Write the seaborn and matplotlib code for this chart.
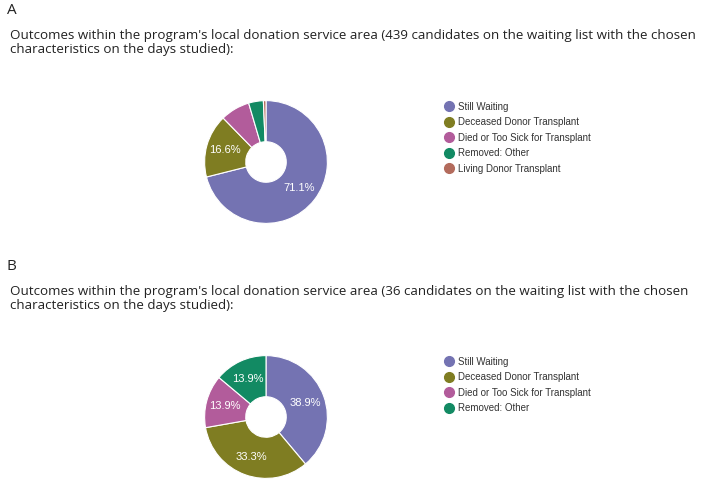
import seaborn as sns
import matplotlib.pyplot as plt
from matplotlib.lines import Line2D

# Panel A: 439 candidates
labels_a = ["Still Waiting", "Deceased Donor Transplant", "Died or Too Sick for Transplant",
            "Removed: Other", "Living Donor Transplant"]
counts_a = [312, 73, 34, 17, 3]
colors_a = ["#7473b2", "#7f7d22", "#b25c9b", "#128a63", "#b36b5c"]

# Panel B: 36 candidates
labels_b = ["Still Waiting", "Deceased Donor Transplant", "Died or Too Sick for Transplant",
            "Removed: Other"]
counts_b = [14, 12, 5, 5]
colors_b = colors_a[:4]

titles = [
    ("A", "Outcomes within the program's local donation service area (439 candidates on the waiting list with the chosen\ncharacteristics on the days studied):"),
    ("B", "Outcomes within the program's local donation service area (36 candidates on the waiting list with the chosen\ncharacteristics on the days studied):"),
]

sns.set_theme(style="white")
plt.rcParams['font.family'] = ['Liberation Sans', 'DejaVu Sans']

W, H = 704, 493
fig = plt.figure(figsize=(W / 100, H / 100), dpi=100)


def px(x, y):
    return x / W, 1 - y / H


def draw_panel(idx, counts, labels, colors, cy, title_y, legend_y):
    letter, title = titles[idx]
    fig.text(*px(7, title_y), letter, fontsize=11, family='Open Sans', color='#222222', va='center')
    fig.text(*px(10, title_y + 32), title, fontsize=9.6, family='Open Sans', color='#222222',
             va='center', linespacing=1.1)

    r = 62
    l, b = px(266 - r, cy + r)
    ax = fig.add_axes([l, b, 2 * r / W, 2 * r / H])
    ax.pie(counts, colors=colors, startangle=90, counterclock=False,
           autopct=lambda p: f"{p:.1f}%" if p > 10 else "", pctdistance=0.69,
           wedgeprops=dict(width=0.67, edgecolor='white', linewidth=0.8),
           textprops=dict(color='white', fontsize=8))
    ax.set_xlim(-1.01, 1.01)
    ax.set_ylim(-1.01, 1.01)
    ax.set_aspect('equal')

    handles = [Line2D([], [], marker='o', linestyle='', markersize=7, color=c) for c in colors]
    fig.legend(handles, labels, loc='upper left', bbox_to_anchor=px(438, legend_y),
               frameon=False, fontsize=7, handletextpad=0.2, labelspacing=0.56,
               borderaxespad=0, handlelength=1.5, labelcolor='#333333')


draw_panel(0, counts_a, labels_a, colors_a, 162, 11, 98)
draw_panel(1, counts_b, labels_b, colors_b, 417, 267, 353)

fig.savefig("out.png", dpi=100, facecolor='white')
